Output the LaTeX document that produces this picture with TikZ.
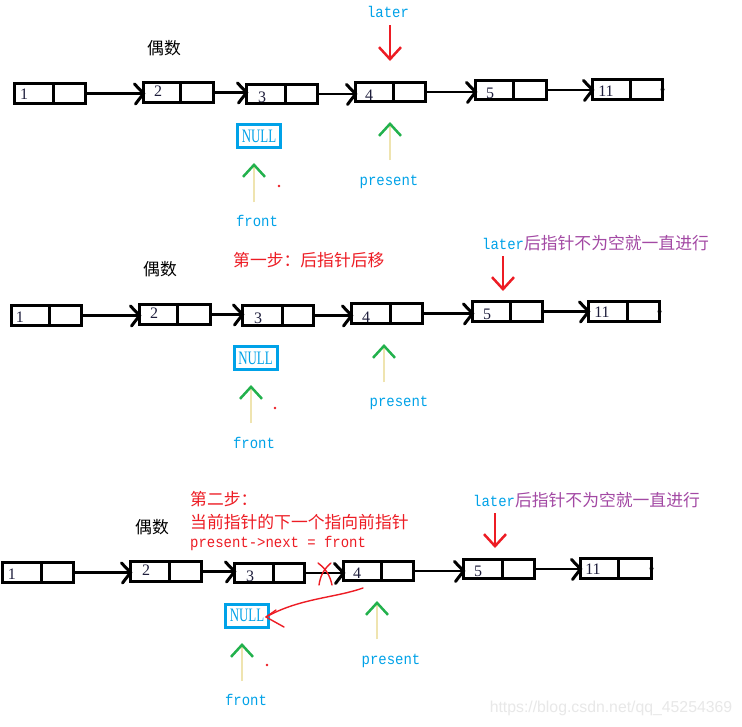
\documentclass[tikz,border=0pt]{standalone}
\usepackage{fontspec}
\usepackage{graphicx}
\setmainfont{Liberation Serif}
\newfontfamily\cjk{Noto Sans CJK SC}
\newfontfamily\monof{Liberation Mono}
\newfontfamily\wmf{Liberation Sans}
\usetikzlibrary{arrows.meta}
\definecolor{pcyan}{RGB}{0,162,232}
\definecolor{pred}{RGB}{237,28,36}
\definecolor{pgreen}{RGB}{34,177,76}
\definecolor{pyellow}{RGB}{239,228,176}
\definecolor{ppurple}{RGB}{163,73,164}
\definecolor{numc}{RGB}{30,30,60}
\newcommand\mt[1]{{\monof\fontsize{15.5}{17}\selectfont\scalebox{0.9}[1]{#1}}}
\tikzset{
  cellbox/.style={draw=black, line width=3pt, inner sep=0pt, outer sep=0pt},
  divline/.style={line width=3pt},
  num/.style={font=\fontsize{16}{16}\selectfont, text=numc, inner sep=0pt},
  link/.style={line width=2.6pt},
  linkhead/.style={line width=3pt, line cap=round, line join=miter},
  ptr/.style={pyellow, line width=2.5pt, -{Straight Barb[length=12pt,width=22pt,color=pgreen]}},
  laterarrow/.style={pred, line width=2.5pt, -{Straight Barb[length=12pt,width=22pt]}},
  cjktxt/.style={font=\cjk\fontsize{16.8}{18}\selectfont, inner sep=0pt, anchor=west},
  monotxt/.style={inner sep=0pt},
  nullbox/.style={draw=pcyan, line width=3pt, text=pcyan, inner sep=0pt, outer sep=0pt,
    minimum width=43pt, minimum height=23pt, font=\fontsize{19}{19}\selectfont},
  enddot/.style={fill=black},
  reddot/.style={fill=pred},
  redpen/.style={pred, line width=1.4pt, line cap=round, line join=round},
}
\newcommand\LN[9]{%
  \node[cellbox, minimum width={(#4-#2-3)*1pt}, minimum height={(#6-#5-3)*1pt}] (#1) at ({(#2+#4)/2},{(#5+#6)/2}) {};
  \draw[divline] (#3,#5) -- (#3,#6);
  \node[num] (#1t) at (#8,#9) {#7};
}
\newcommand\LK[2]{%
  \draw[link] (#1.east) -- (#1.east -| #2.west);
  \draw[linkhead] (#1.east -| #2.west) ++(-9,-9.5) -- (#1.east -| #2.west) -- ++(-8,10.5);
}
\newcommand\latertext{\textcolor{pcyan}{\mt{later}}\textcolor{ppurple}{后指针不为空就一直进行}}
\newcommand\nulltext{\scalebox{0.68}[1]{NULL}}
\begin{document}
\begin{tikzpicture}[x=1pt,y=-1pt]
\useasboundingbox[fill=white] (0,0) rectangle (742,726);

% ---------------- Section 1 ----------------
\LN{a1}{13}{53}{87}{82}{105}{1}{24}{94}
\LN{a2}{142}{180}{215}{81}{104}{2}{158}{91}
\LN{a3}{245}{285}{319}{83}{105}{3}{262}{97}
\LN{a4}{354}{393}{427}{81}{103}{4}{369}{95}
\LN{a5}{474}{513}{548}{79}{101}{5}{490}{93}
\LN{a6}{591}{630}{664}{78}{101}{11}{606}{91}
\LK{a1}{a2}\LK{a2}{a3}\LK{a3}{a4}\LK{a4}{a5}\LK{a5}{a6}
\fill[enddot] (a6.east) circle (2pt);

\node[cjktxt] (even1) at (147,48) {偶数};
\node[monotxt, text=pcyan] (later1) at (388,12) {\mt{later}};
\coordinate (la1) at (390,25); \coordinate (lt1) at (390,61);
\draw[laterarrow] (la1) -- (lt1);
\node[nullbox] (null1) at (259,136) {\nulltext};
\coordinate (fa1) at (254,202); \coordinate (ft1) at (254,163);
\draw[ptr] (fa1) -- (ft1);
\node[monotxt, text=pcyan] (front1) at (257,221) {\mt{front}};
\coordinate (pa1) at (390,160); \coordinate (pt1) at (390,122);
\draw[ptr] (pa1) -- (pt1);
\node[monotxt, text=pcyan] (pres1) at (389,182) {\mt{present}};
\fill[reddot] (279,186) circle (1.4pt);

% ---------------- Section 2 ----------------
\LN{b1}{10}{49}{83}{304}{327}{1}{20}{317}
\LN{b2}{138}{177}{212}{303}{326}{2}{154}{313}
\LN{b3}{241}{282}{315}{304}{327}{3}{258}{318}
\LN{b4}{350}{390}{424}{302}{325}{4}{366}{317}
\LN{b5}{471}{510}{544}{300}{323}{5}{487}{314}
\LN{b6}{587}{627}{661}{300}{323}{11}{602}{312}
\LK{b1}{b2}\LK{b2}{b3}\LK{b3}{b4}\LK{b4}{b5}\LK{b5}{b6}
\fill[enddot] (b6.east) circle (2pt);

\node[cjktxt] (even2) at (143,269) {偶数};
\node[cjktxt, text=pred] (step1) at (233,260) {第一步：后指针后移};
\node[cjktxt] (later2) at (482,243) {\latertext};
\coordinate (la2) at (503,256); \coordinate (lt2) at (503,291);
\draw[laterarrow] (la2) -- (lt2);
\node[nullbox] (null2) at (255.5,358) {\nulltext};
\coordinate (fa2) at (251,423); \coordinate (ft2) at (251,385);
\draw[ptr] (fa2) -- (ft2);
\node[monotxt, text=pcyan] (front2) at (254,443) {\mt{front}};
\coordinate (pa2) at (384,382); \coordinate (pt2) at (384,344);
\draw[ptr] (pa2) -- (pt2);
\node[monotxt, text=pcyan] (pres2) at (399,403) {\mt{present}};
\fill[reddot] (275,408) circle (1.4pt);

% ---------------- Section 3 ----------------
\LN{c1}{1}{41}{75}{561}{584}{1}{12}{574}
\LN{c2}{129}{169}{203}{560}{583}{2}{146}{570}
\LN{c3}{233}{273}{306}{562}{584}{3}{250}{576}
\LN{c4}{342}{381}{415}{560}{582}{4}{357}{573}
\LN{c5}{462}{502}{536}{558}{580}{5}{478}{571}
\LN{c6}{579}{618}{653}{557}{580}{11}{593}{569}
\LK{c1}{c2}\LK{c2}{c3}\LK{c3}{c4}\LK{c4}{c5}\LK{c5}{c6}
\fill[enddot] (c6.east) circle (2pt);

\node[cjktxt] (even3) at (135,527) {偶数};
\node[cjktxt, text=pred] (step2) at (190,499) {第二步：};
\node[cjktxt, text=pred] (step2b) at (190,522) {当前指针的下一个指向前指针};
\node[monotxt, text=pred, anchor=west] (step2c) at (190,543) {\mt{present->next = front}};
\node[cjktxt] (later3) at (473,500) {\latertext};
\coordinate (la3) at (495,513); \coordinate (lt3) at (495,548);
\draw[laterarrow] (la3) -- (lt3);
\node[nullbox] (null3) at (247,615.5) {\nulltext};
\coordinate (fa3) at (242,681); \coordinate (ft3) at (242,643);
\draw[ptr] (fa3) -- (ft3);
\node[monotxt, text=pcyan] (front3) at (246,700) {\mt{front}};
\coordinate (pa3) at (377,639); \coordinate (pt3) at (377,601);
\draw[ptr] (pa3) -- (pt3);
\node[monotxt, text=pcyan] (pres3) at (391,661) {\mt{present}};
\fill[reddot] (267,665) circle (1.4pt);

% red cross over the link c3 -> c4
\draw[redpen] (318,563) to[bend left=20] (332,585);
\draw[redpen] (331,563) to[bend right=20] (319,585);
% red re-pointing curve
\coordinate (cs) at (363,588);
\coordinate (ctip) at (266,617);
\draw[redpen] (cs) .. controls (335,598) and (300,598) .. (ctip);
\draw[redpen] (276,610) -- (ctip) -- (284,627);

% watermark
\node[font=\wmf\fontsize{15.8}{16}\selectfont, text=black!9, inner sep=0pt] (wm) at (611,708) {https://blog.csdn.net/qq\_45254369};
\end{tikzpicture}
\end{document}
